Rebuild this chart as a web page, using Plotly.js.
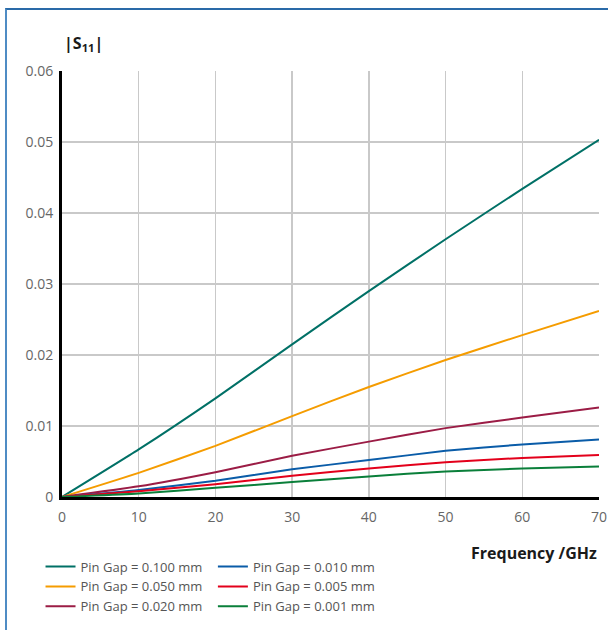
<!DOCTYPE html>
<html>
<head>
<meta charset="utf-8">
<script src="https://cdn.plot.ly/plotly-3.0.1.min.js"></script>
<style>
html,body{margin:0;padding:0;background:#fff;}
#wrap{position:relative;width:608px;height:630px;overflow:hidden;}
#frame{position:absolute;left:5px;top:8px;width:640px;height:700px;border-left:2px solid #4f8cc4;border-top:2px solid #2a6aa8;box-sizing:border-box;pointer-events:none;z-index:5;}
#chart{position:absolute;left:0;top:0;width:608px;height:630px;}
</style>
</head>
<body>
<div id="wrap"><div id="chart"></div><div id="frame"></div></div>
<script>
const freq = [0, 10, 20, 30, 40, 50, 60, 70];
const gap100 = [0, 0.0067, 0.0139, 0.0215, 0.0290, 0.0363, 0.0434, 0.0503];
const gap050 = [0, 0.0034, 0.0072, 0.0114, 0.0155, 0.0193, 0.0228, 0.0262];
const gap020 = [0, 0.0015, 0.0035, 0.0058, 0.0078, 0.0097, 0.0112, 0.0126];
const gap010 = [0, 0.0010, 0.0023, 0.0039, 0.0052, 0.0065, 0.0074, 0.0081];
const gap005 = [0, 0.0008, 0.0018, 0.0030, 0.0040, 0.0049, 0.0055, 0.0059];
const gap001 = [0, 0.0005, 0.0013, 0.0021, 0.0029, 0.0036, 0.0040, 0.0043];
const seriesNames = ["Pin Gap = 0.100 mm","Pin Gap = 0.050 mm","Pin Gap = 0.020 mm","Pin Gap = 0.010 mm","Pin Gap = 0.005 mm","Pin Gap = 0.001 mm"];
const seriesColors = ["#007066","#f59c00","#9b1c45","#0a5ca8","#e3001b","#0a7f3a"];
const xTicks = [0,10,20,30,40,50,60,70];
const yTicks = [0,0.01,0.02,0.03,0.04,0.05,0.06];
const yTickText = ["0","0.01","0.02","0.03","0.04","0.05","0.06"];

const ys = [gap100, gap050, gap020, gap010, gap005, gap001];
const legendIds = ["legend","legend","legend","legend2","legend2","legend2"];
const traces = ys.map((y,i)=>({
  x: freq, y: y, type:"scatter", mode:"lines", name: seriesNames[i],
  line:{color: seriesColors[i], width:2, shape:"spline", smoothing:0.5},
  legend: legendIds[i], hoverinfo:"skip"
}));

const legendFont = {family:"Open Sans, sans-serif", size:13, color:"#555"};
const layout = {
  width:608, height:630,
  margin:{l:62, r:9, t:71, b:131},
  paper_bgcolor:"#fff", plot_bgcolor:"#fff",
  font:{family:"Open Sans, sans-serif", color:"#666", size:14},
  xaxis:{range:[0,70], tickvals:xTicks, ticktext:xTicks.map(String), showgrid:true, gridcolor:"#c9c9c9", gridwidth:1.5,
    showline:true, linecolor:"#000", linewidth:3, zeroline:false, ticks:"", ticklen:0, ticklabelstandoff:5, tickfont:{size:14,color:"#666"}, fixedrange:true},
  yaxis:{range:[0,0.06], tickvals:yTicks, ticktext:yTickText, showgrid:true, gridcolor:"#c9c9c9", gridwidth:1.5,
    showline:true, linecolor:"#000", linewidth:3, zeroline:false, ticks:"", ticklen:0, ticklabelstandoff:3, tickfont:{size:14,color:"#666"}, fixedrange:true},
  showlegend:true,
  legend:{x:-0.04, y:-0.128, xanchor:"left", yanchor:"top", orientation:"v", font:legendFont, bgcolor:"rgba(0,0,0,0)", itemwidth:30, tracegroupgap:0},
  legend2:{x:0.281, y:-0.128, xanchor:"left", yanchor:"top", orientation:"v", font:legendFont, bgcolor:"rgba(0,0,0,0)", itemwidth:30, tracegroupgap:0},
  annotations:[
    {text:"<b>Frequency /GHz</b>", xref:"paper", yref:"paper", x:1, y:-0.131, xanchor:"right", yanchor:"middle", showarrow:false,
     font:{family:"Open Sans, sans-serif", size:16, color:"#1a1a1a"}},
    {text:"<b>|S<sub>11</sub>|</b>", xref:"paper", yref:"paper", x:0, y:1.065, xanchor:"left", yanchor:"middle", showarrow:false,
     font:{family:"Open Sans, sans-serif", size:16, color:"#1a1a1a"}}
  ]
};
Plotly.newPlot("chart", traces, layout, {displayModeBar:false, staticPlot:true});
</script>
</body>
</html>
